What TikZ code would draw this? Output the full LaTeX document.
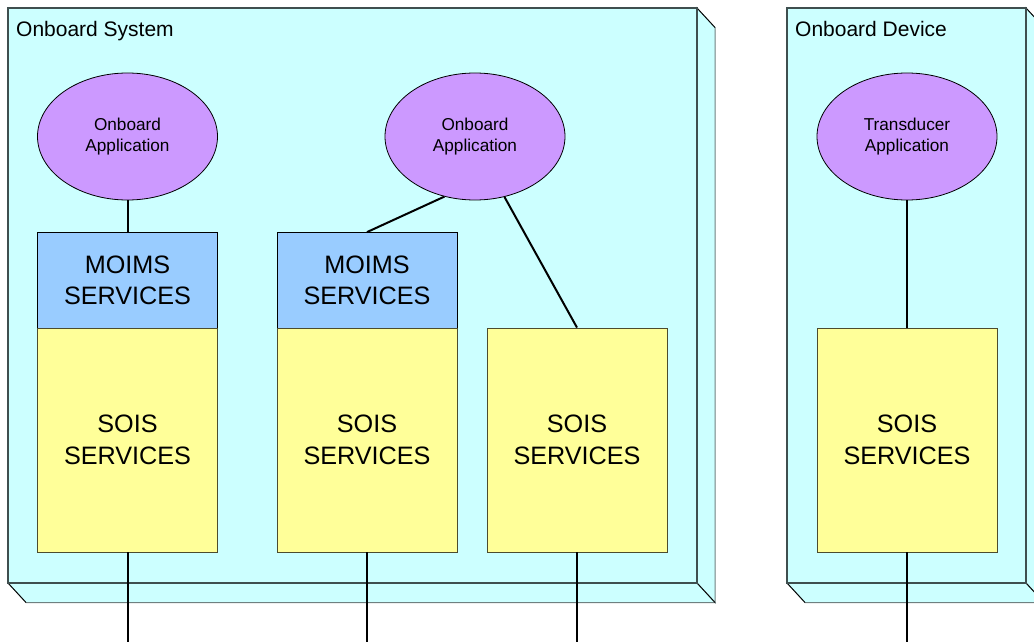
\documentclass[tikz,border=0pt]{standalone}
\usepackage{fontspec}
\setmainfont{Liberation Sans}
\usetikzlibrary{shapes.geometric}
\definecolor{boxcyan}{HTML}{CCFFFF}
\definecolor{boxedge}{HTML}{3F4F4F}
\definecolor{boxedgelight}{HTML}{6F8080}
\definecolor{appviolet}{HTML}{CC99FF}
\definecolor{moimsblue}{HTML}{99CCFF}
\definecolor{soisyellow}{HTML}{FFFF99}
\tikzset{
  front/.style={fill=boxcyan, draw=boxedge, line width=1.6pt},
  face/.style={fill=boxcyan, draw=boxedgelight, line width=1pt, line join=miter},
  sysname/.style={anchor=north west, inner sep=0pt, font=\fontsize{21}{25}\selectfont},
  app/.style={ellipse, draw=black, line width=0.8pt, fill=appviolet, inner sep=0pt,
    minimum width=180pt, minimum height=127pt, align=center,
    font=\fontsize{17.2}{21}\selectfont},
  moims/.style={rectangle, draw=black, line width=0.8pt, fill=moimsblue, inner sep=0pt,
    minimum width=180pt, minimum height=96pt, align=center,
    font=\fontsize{25.2}{31}\selectfont},
  sois/.style={rectangle, draw=black!70!soisyellow, line width=0.8pt, fill=soisyellow, inner sep=0pt,
    minimum width=180pt, minimum height=224pt, align=center,
    font=\fontsize{25.2}{32}\selectfont},
  link/.style={draw=black, line width=2pt}
}
\begin{document}
\begin{tikzpicture}[x=1pt, y=-1pt]
\useasboundingbox (0,0) rectangle (1034,642);
\clip (0,0) rectangle (1034,642);

% Onboard System enclosure (front face plus extruded side and bottom)
\filldraw[face] (697,8) -- (715,27.5) -- (715,602.5) -- (697,583) -- cycle;
\filldraw[face] (8,583) -- (697,583) -- (715,602.5) -- (26,602.5) -- cycle;
\draw[black, line width=0.8pt] (697,8) -- (715,27.5);
\draw[black, line width=0.8pt] (8,583) -- (26,602.5);
\draw[black, line width=0.8pt] (697,583) -- (715,602.5);
\draw[front] (8,8) rectangle (697,583);
\node[sysname] (sysname) at (16,21.5) {Onboard System};

% Onboard Device enclosure
\filldraw[face] (1026,8) -- (1044,27.5) -- (1044,602.5) -- (1026,583) -- cycle;
\filldraw[face] (787,583) -- (1026,583) -- (1044,602.5) -- (805,602.5) -- cycle;
\draw[black, line width=0.8pt] (1026,8) -- (1044,27.5);
\draw[black, line width=0.8pt] (787,583) -- (805,602.5);
\draw[black, line width=0.8pt] (1026,583) -- (1044,602.5);
\draw[front] (787,8) rectangle (1026,583);
\node[sysname] (devname) at (795,21.5) {Onboard Device};

% Applications
\node[app] (app1) at (127.5,136.5) {Onboard\\Application};
\node[app] (app2) at (475,136.5) {Onboard\\Application};
\node[app] (app3) at (907,136.5) {Transducer\\Application};

% Service stacks
\node[moims] (moims1) at (127.5,280.5) {MOIMS\\SERVICES};
\node[sois]  (sois1)  at (127.5,440) {SOIS\\SERVICES};
\node[moims] (moims2) at (367,280.5) {MOIMS\\SERVICES};
\node[sois]  (sois2)  at (367,440) {SOIS\\SERVICES};
\node[sois]  (sois3)  at (577,440) {SOIS\\SERVICES};
\node[sois]  (sois4)  at (907,440) {SOIS\\SERVICES};

% Free ends of the external links
\coordinate (out1) at (127.5,642);
\coordinate (out2) at (367,642);
\coordinate (out3) at (577,642);
\coordinate (out4) at (907,642);

% Connectors
\draw[link] (app1.south) -- (moims1.north);
\draw[link] (app2.243.6) -- (moims2.north);
\draw[link] (app2.296.4) -- (sois3.north);
\draw[link] (app3.south) -- (sois4.north);
\draw[link] (sois1.south) -- (out1);
\draw[link] (sois2.south) -- (out2);
\draw[link] (sois3.south) -- (out3);
\draw[link] (sois4.south) -- (out4);
\end{tikzpicture}
\end{document}
